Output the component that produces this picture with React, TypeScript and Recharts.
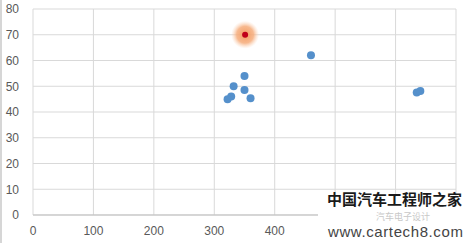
import { ScatterChart, Scatter, XAxis, YAxis, CartesianGrid } from 'recharts';

// measured samples
const xValues = [350, 332, 350, 328, 322, 360, 460, 635, 641];
const yValues = [54, 50, 48.5, 46, 45, 45.3, 62, 47.6, 48.2];

// highlighted sample
const highlightX = [351];
const highlightY = [70];

const xTicks = [0, 100, 200, 300, 400, 500, 600, 700];
const yTicks = [0, 10, 20, 30, 40, 50, 60, 70, 80];

const points = xValues.map((x, i) => ({ x, y: yValues[i] }));
const highlight = highlightX.map((x, i) => ({ x, y: highlightY[i] }));

const GlowDot = (props: any) => {
  const { cx, cy } = props;
  return (
    <g>
      <circle cx={cx} cy={cy} r={14} fill="url(#glow)" />
      <circle cx={cx} cy={cy} r={3} fill="#c0001a" />
    </g>
  );
};

const BlueDot = (props: any) => {
  const { cx, cy } = props;
  return <circle cx={cx} cy={cy} r={4} fill="#5590cb" />;
};

const tickStyle = { fill: '#595959', fontSize: 12, fontFamily: 'Liberation Sans, Arial, sans-serif' };

// labels past 400 sit under the site stamp
const xLabel = (v: number) => (v > 400 ? '' : String(v));

export default function App() {
  return (
    <div style={{ position: 'relative', width: 472, height: 243, background: '#fff', borderLeft: '2px solid #d6d6d6', boxSizing: 'border-box' }}>
      <style>{'body{margin:0}'}</style>
      <ScatterChart width={470} height={243} margin={{ top: 9, right: 16, bottom: 0, left: 0 }}>
        <defs>
          <radialGradient id="glow">
            <stop offset="0%" stopColor="#f39a5e" stopOpacity={1} />
            <stop offset="60%" stopColor="#f6ad7c" stopOpacity={0.85} />
            <stop offset="100%" stopColor="#fbd3b6" stopOpacity={0} />
          </radialGradient>
        </defs>
        <CartesianGrid stroke="#d9d9d9" />
        <XAxis
          type="number"
          dataKey="x"
          domain={[0, 700]}
          ticks={xTicks}
          interval={0}
          height={28}
          tick={tickStyle}
          tickFormatter={xLabel}
          tickLine={false}
          axisLine={{ stroke: '#bfbfbf' }}
          tickMargin={5}
        />
        <YAxis
          type="number"
          dataKey="y"
          domain={[0, 80]}
          ticks={yTicks}
          interval={0}
          width={31}
          tick={tickStyle}
          tickLine={false}
          axisLine={false}
          tickMargin={8}
        />
        <Scatter data={points} shape={BlueDot} isAnimationActive={false} />
        <Scatter data={highlight} shape={GlowDot} isAnimationActive={false} />
      </ScatterChart>
      <div style={{ position: 'absolute', left: 316, top: 197, width: 156, height: 46, background: '#fff' }} />
      <div style={{ position: 'absolute', left: 325, top: 190, fontSize: 15, lineHeight: '17px', fontWeight: 'bold', color: '#1a1a1a', fontFamily: 'Noto Sans CJK SC', whiteSpace: 'nowrap' }}>
        中国汽车工程师之家
      </div>
      <div style={{ position: 'absolute', left: 374, top: 212, fontSize: 9, lineHeight: '10px', color: '#c8c8c8', fontFamily: 'Noto Sans CJK SC', whiteSpace: 'nowrap' }}>
        汽车电子设计
      </div>
      <div style={{ position: 'absolute', left: 326, top: 223, fontSize: 15, lineHeight: '17px', letterSpacing: 0.6, color: '#444', fontFamily: 'Liberation Sans, Arial, sans-serif', whiteSpace: 'nowrap' }}>
        www.cartech8.com
      </div>
    </div>
  );
}
